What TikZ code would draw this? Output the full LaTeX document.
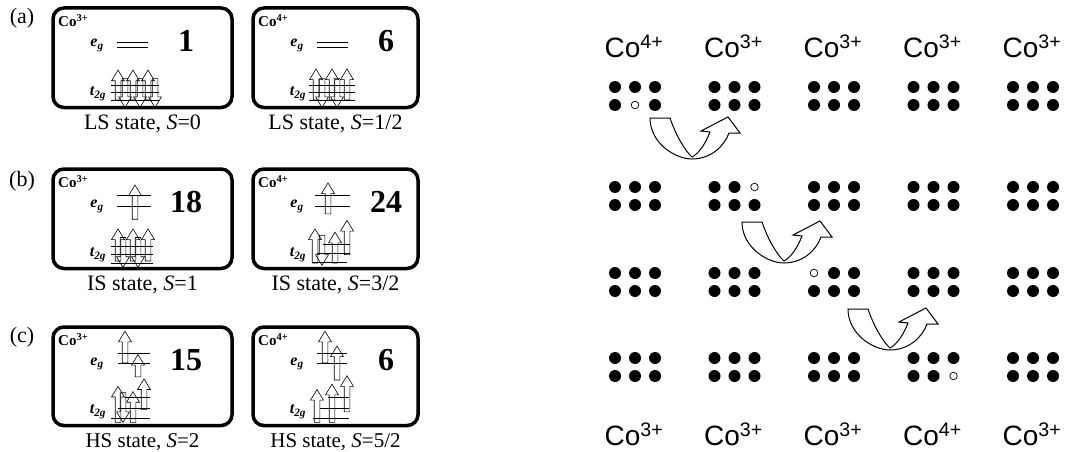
\documentclass[tikz,border=0pt]{standalone}
\usepackage{fontspec}
\setmainfont{Liberation Serif}
\newfontfamily\arialfont{Liberation Sans}

\tikzset{
  ionbox/.style={line width=3.5pt, rounded corners=11pt},
  spin/.style={line width=0.6pt},
  lvl/.style={line width=0.6pt},
  dotc/.style={fill=black},
  hole/.style={draw=black, fill=white, line width=0.7pt},
  hop/.style={draw=black, fill=white, line width=1pt},
  hoparr/.pic={\draw[hop] (0,0) .. controls (0,25) and (25,41) .. (42,41) .. controls (60,41) and (74,29) .. (79,15) -- (90,15) -- (78,-1) -- (51,13) -- (60,14) .. controls (55,27) and (48,36) .. (42,39) .. controls (36,34) and (26,18) .. (20,0) -- cycle;},
}

% hollow spin arrows: x, tip y, tail y / x, tail y, tip y
\newcommand{\uarr}[3]{\draw[spin] ({#1-2.8},#3) -- ({#1-2.8},{#2+10}) -- ({#1-6.5},{#2+10}) -- (#1,#2) -- ({#1+6.5},{#2+10}) -- ({#1+2.8},{#2+10}) -- ({#1+2.8},#3) -- cycle;}
\newcommand{\darr}[3]{\draw[spin] ({#1-2.8},#2) -- ({#1-2.8},{#3-10}) -- ({#1-6.5},{#3-10}) -- (#1,#3) -- ({#1+6.5},{#3-10}) -- ({#1+2.8},{#3-10}) -- ({#1+2.8},#2) -- cycle;}

% frame and labels of one ion: width, name, charge, number
\newcommand{\cobox}[4]{%
  \draw[ionbox] (0,0) rectangle (#1,93);
  \node[anchor=west, inner sep=0, font=\fontsize{15}{15}\selectfont\bfseries] (#2ion) at (5,12) {Co\textsuperscript{#3}};
  \node[font=\fontsize{16}{16}\selectfont\bfseries\itshape] (#2eg) at (44,35) {e\textsubscript{g}};
  \node[font=\fontsize{16}{16}\selectfont\bfseries\itshape] (#2tg) at (45,80) {t\textsubscript{2g}};
  \node[font=\fontsize{32}{32}\selectfont\bfseries] (#2num) at (133,31) {#4};
}

\begin{document}
\begin{tikzpicture}[x=1pt,y=-1pt]
\useasboundingbox (0,0) rectangle (1077,452);

% (a) low spin
\node[font=\fontsize{22}{22}\selectfont] (lbla) at (22,18) {(a)};
\begin{scope}[shift={(53,8)}, yscale=1.07]
  \cobox{179}{aa}{3+}{1}
  \draw[lvl] (64,32) -- (95,32);
  \draw[lvl] (64,37) -- (95,37);
  \draw[lvl] (58,72) -- (106,72);
  \draw[lvl] (58,79) -- (106,79);
  \draw[lvl] (58,86) -- (106,86);
  \foreach \xx in {65,80,95} {\uarr{\xx}{58}{86}}
  \foreach \xx in {72,87,102} {\darr{\xx}{66}{93}}
\end{scope}
\begin{scope}[shift={(253,8)}, yscale=1.07]
  \cobox{165}{ab}{4+}{6}
  \draw[lvl] (64,32) -- (95,32);
  \draw[lvl] (64,37) -- (95,37);
  \draw[lvl] (56,72) -- (102,72);
  \draw[lvl] (56,79) -- (102,79);
  \draw[lvl] (56,86) -- (102,86);
  \foreach \xx in {63,79,94} {\uarr{\xx}{57}{86}}
  \foreach \xx in {69,84} {\darr{\xx}{66}{93}}
\end{scope}
\node[font=\fontsize{22}{22}\selectfont] (aast) at (142.5,124) {LS state, \textit{S}=0};
\node[font=\fontsize{22}{22}\selectfont] (abst) at (335.5,124) {LS state, \textit{S}=1/2};

% (b) intermediate spin
\node[font=\fontsize{22}{22}\selectfont] (lblb) at (22,181) {(b)};
\begin{scope}[shift={(53,169)}, yscale=1.07]
  \cobox{179}{ba}{3+}{18}
  \draw[lvl] (64,25) -- (98,25);
  \draw[lvl] (64,35) -- (98,35);
  \uarr{82}{15}{47}
  \draw[lvl] (58,72) -- (100,72);
  \draw[lvl] (58,80) -- (100,80);
  \draw[lvl] (58,88) -- (100,88);
  \foreach \xx in {65,80,95} {\uarr{\xx}{56}{86}}
  \foreach \xx in {70,85} {\darr{\xx}{64}{92}}
\end{scope}
\begin{scope}[shift={(253,169)}, yscale=1.07]
  \cobox{165}{bb}{4+}{24}
  \draw[lvl] (62,25) -- (97,25);
  \draw[lvl] (62,35) -- (97,35);
  \uarr{75}{13}{42}
  \draw[lvl] (70,70) -- (97,70);
  \draw[lvl] (64,79) -- (97,79);
  \draw[lvl] (59,87) -- (94,87);
  \uarr{62}{56}{88}
  \uarr{82}{59}{88}
  \uarr{94}{48}{80}
  \darr{69}{62}{90}
\end{scope}
\node[font=\fontsize{22}{22}\selectfont] (bast) at (142.5,285) {IS state, \textit{S}=1};
\node[font=\fontsize{22}{22}\selectfont] (bbst) at (335.5,285) {IS state, \textit{S}=3/2};

% (c) high spin
\node[font=\fontsize{22}{22}\selectfont] (lblc) at (22,337) {(c)};
\begin{scope}[shift={(53,327)}, yscale=1.06]
  \cobox{179}{ca}{3+}{15}
  \draw[lvl] (65,25) -- (97,25);
  \draw[lvl] (65,34) -- (97,34);
  \uarr{72}{4}{34}
  \uarr{85}{26}{47}
  \draw[lvl] (72,66) -- (97,66);
  \draw[lvl] (65,77) -- (97,77);
  \draw[lvl] (58,86) -- (97,86);
  \uarr{65}{56}{90}
  \uarr{80}{61}{90}
  \uarr{91}{49}{78}
  \darr{70}{62}{90}
\end{scope}
\begin{scope}[shift={(253,327)}, yscale=1.06]
  \cobox{165}{cb}{4+}{6}
  \draw[lvl] (64,25) -- (94,25);
  \draw[lvl] (64,34) -- (94,34);
  \uarr{72}{4}{34}
  \uarr{84}{18}{50}
  \draw[lvl] (75,66) -- (96,66);
  \draw[lvl] (67,77) -- (96,77);
  \draw[lvl] (60,86) -- (96,86);
  \uarr{64}{59}{90}
  \uarr{79}{54}{90}
  \uarr{94}{46}{80}
\end{scope}
\node[font=\fontsize{21}{21}\selectfont] (cast) at (142.5,442) {HS state, \textit{S}=2};
\node[font=\fontsize{21}{21}\selectfont] (cbst) at (335.5,442) {HS state, \textit{S}=5/2};

% lattice of Co sites
\foreach \c in {0,...,4} {
  \foreach \yy in {87,187,273,358} {
    \foreach \dx in {-20,0,20} {
      \fill[dotc] ({635+99.5*\c+\dx},\yy) circle (6pt);
      \fill[dotc] ({635+99.5*\c+\dx},{\yy+18}) circle (6pt);
    }
  }
}
% holes
\foreach \hx/\hy in {635/105, 754.5/187, 814/273, 953.5/376} {
  \fill[white] (\hx,\hy) circle (7pt);
  \draw[hole] (\hx,\hy) circle (3.8pt);
}
\foreach \c/\q in {0/4,1/3,2/3,3/3,4/3}
  \node[font=\arialfont\fontsize{28}{28}\selectfont] (top\c) at ({634+99.5*\c},46) {Co\textsuperscript{\q+}};
\foreach \c/\q in {0/3,1/3,2/3,3/4,4/3}
  \node[font=\arialfont\fontsize{28}{28}\selectfont] (bot\c) at ({634+99.5*\c},434) {Co\textsuperscript{\q+}};

% hopping
\pic at (650,118) {hoparr};
\pic at (742,222) {hoparr};
\pic at (848,309) {hoparr};

\end{tikzpicture}
\end{document}
